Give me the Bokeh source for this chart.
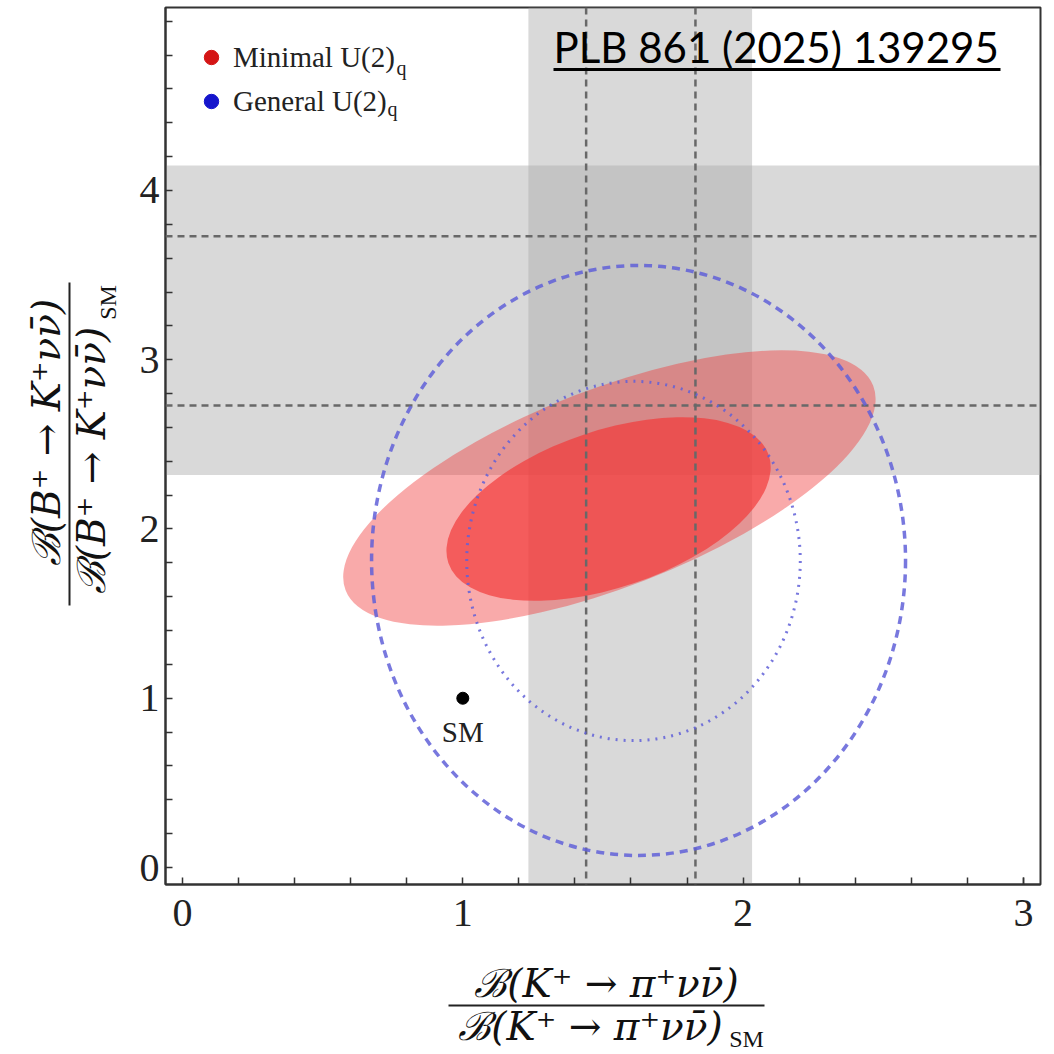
import math
from bokeh.plotting import figure
from bokeh.layouts import row, column
from bokeh.models import (Range1d, FixedTicker, BoxAnnotation, Span, Label,
                          Legend, LegendItem, Arrow)
from bokeh.core.properties import value
from bokeh.embed import file_html
from bokeh.resources import INLINE

# ---------------- data ----------------
x_major_ticks = [0, 1, 2, 3]
x_minor_ticks = [0.2, 0.4, 0.6, 0.8, 1.2, 1.4, 1.6, 1.8, 2.2, 2.4, 2.6, 2.8, 3.0]
y_major_ticks = [0, 1, 2, 3, 4]
y_minor_ticks = [0.2, 0.4, 0.6, 0.8, 1.2, 1.4, 1.6, 1.8, 2.2, 2.4, 2.6, 2.8,
                 3.2, 3.4, 3.6, 3.8, 4.2, 4.4, 4.6, 4.8, 5.0]

# experimental bands (1 sigma) and central values
k_band_low, k_band_high = 1.234, 2.032
k_central_lines = [1.44, 1.83]
b_band_low, b_band_high = 2.319, 4.147
b_central_lines = [2.73, 3.73]

# Minimal U(2)_q regions (outer, inner)
min_cx = [1.523, 1.520]
min_cy = [2.242, 2.118]
min_w = [2.019, 1.206]
min_h = [1.168, 0.927]
min_angle = [21.2, 18.6]
min_alpha = [0.43, 0.70]

# General U(2)_q contours (dashed outer, dotted inner)
gen_cx = [1.627, 1.609]
gen_cy = [1.814, 1.811]
gen_w = [1.905, 1.190]
gen_h = [3.487, 2.124]

sm_x = [1.0]
sm_y = [1.0]
sm_label = ["SM"]

legend_labels = ["Minimal U(2)", "General U(2)"]
legend_sub = "q"
reference_text = "PLB 861 (2025) 139295"
num_x = "\u212c(K\u207a \u2192 \u03c0\u207a\u03bd\u03bd\u0304)"
num_y = "\u212c(B\u207a \u2192 K\u207a\u03bd\u03bd\u0304)"
sub_sm = "SM"

# ---------------- main figure ----------------
SERIF = "Liberation Serif"
TITLE_FONT = "DejaVu Serif"
TOTAL = 1050
YT_W = 128           # width of the y-title strip
XT_H = 100           # height of the x-title strip
MAIN_W = TOTAL - YT_W
MAIN_H = TOTAL - XT_H
FRAME_TOP, FRAME_BOTTOM = 7, 884

p = figure(width=MAIN_W, height=MAIN_H,
           x_range=Range1d(-0.0607, 3.061), y_range=Range1d(-0.1004, 5.081),
           output_backend="svg", toolbar_location=None, title=None,
           min_border_left=37, min_border_right=10,
           min_border_top=FRAME_TOP, min_border_bottom=MAIN_H - FRAME_BOTTOM)
p.grid.visible = False
p.outline_line_color = "#333333"
p.outline_line_width = 2
p.background_fill_color = "white"

p.xaxis.ticker = FixedTicker(ticks=x_major_ticks, minor_ticks=x_minor_ticks)
p.yaxis.ticker = FixedTicker(ticks=y_major_ticks, minor_ticks=y_minor_ticks)
for ax in (p.xaxis, p.yaxis):
    ax.axis_line_width = 2
    ax.axis_line_color = "#333333"
    ax.major_tick_in = 7
    ax.major_tick_out = 0
    ax.minor_tick_in = 7
    ax.minor_tick_out = 0
    ax.major_tick_line_color = "#333333"
    ax.minor_tick_line_color = "#333333"
    ax.major_tick_line_width = 1.5
    ax.minor_tick_line_width = 1.5
    ax.major_label_text_font = SERIF
    ax.major_label_text_font_size = "40px"
    ax.major_label_text_color = "#222222"
p.xaxis.major_label_standoff = 15
p.yaxis.major_label_standoff = 6

# bands
p.add_layout(BoxAnnotation(left=k_band_low, right=k_band_high, fill_color="#aaaaaa",
                           fill_alpha=0.447, line_alpha=0, level="underlay"))
p.add_layout(BoxAnnotation(bottom=b_band_low, top=b_band_high, fill_color="#aaaaaa",
                           fill_alpha=0.447, line_alpha=0, level="underlay"))

# minimal U(2)q ellipses
for i in range(2):
    p.ellipse(x=[min_cx[i]], y=[min_cy[i]], width=[min_w[i]], height=[min_h[i]],
              angle=[min_angle[i]], angle_units="deg",
              fill_color="#f23a3a", fill_alpha=min_alpha[i], line_alpha=0)

# dashed central values
for loc in k_central_lines:
    p.add_layout(Span(location=loc, dimension="height", line_color="#686868",
                      line_width=2.5, line_dash="7 5"))
for loc in b_central_lines:
    p.add_layout(Span(location=loc, dimension="width", line_color="#686868",
                      line_width=2.5, line_dash="7 5"))

# general U(2)q contours
p.ellipse(x=[gen_cx[0]], y=[gen_cy[0]], width=[gen_w[0]], height=[gen_h[0]],
          fill_alpha=0, line_color="#6060d8", line_width=3.5, line_dash="8 6",
          line_alpha=0.85, level="overlay")
p.ellipse(x=[gen_cx[1]], y=[gen_cy[1]], width=[gen_w[1]], height=[gen_h[1]],
          fill_alpha=0, line_color="#6060d8", line_width=3, line_dash="2 6",
          line_alpha=0.85, level="overlay")

# SM point
p.scatter(x=sm_x, y=sm_y, size=12, color="black")
p.text(x=sm_x, y=sm_y, text=sm_label, y_offset=34, text_align="center",
       text_baseline="middle", text_font=value(SERIF), text_font_size="29px",
       text_color="#222222")

# legend (dummy renderers with no visible point)
r_red = p.scatter(x=[math.nan], y=[math.nan], size=14, color="#d41515")
r_blue = p.scatter(x=[math.nan], y=[math.nan], size=14, color="#1515cc")
legend = Legend(items=[LegendItem(label=legend_labels[0], renderers=[r_red]),
                       LegendItem(label=legend_labels[1], renderers=[r_blue])],
                location=(21, 758), padding=7, glyph_width=36,
                glyph_height=36, label_height=36, label_standoff=4, spacing=8,
                label_text_font=SERIF, label_text_font_size="29px",
                label_text_color="#222222",
                background_fill_alpha=0, border_line_alpha=0)
p.add_layout(legend)
p.add_layout(Label(x=231, y=817, x_units="screen", y_units="screen", text=legend_sub,
                   text_font=SERIF, text_font_size="20px", text_baseline="middle",
                   text_color="#222222"))
p.add_layout(Label(x=222, y=776, x_units="screen", y_units="screen", text=legend_sub,
                   text_font=SERIF, text_font_size="20px", text_baseline="middle",
                   text_color="#222222"))

# reference tag
p.add_layout(Label(x=388, y=838, x_units="screen", y_units="screen",
                   text=reference_text, text_font="Lato",
                   text_font_size="42px", text_baseline="middle", text_color="black"))
p.add_layout(Arrow(start=None, end=None, x_start=388, y_start=815, x_end=835, y_end=815,
                   start_units="screen", end_units="screen",
                   line_color="black", line_width=3))

# ---------------- title strips (coordinates = page pixels) ----------------
lab_kw = dict(text_font=TITLE_FONT, text_font_style="italic", text_font_size="39px",
              text_align="center", text_baseline="middle", text_color="#111111")
sub_kw = dict(text_font=SERIF, text_font_size="24px", text_align="center",
              text_baseline="middle", text_color="#111111")

# y title strip: same vertical borders as the main plot, y axis flipped to page pixels
yt = figure(width=YT_W, height=MAIN_H, x_range=Range1d(0, YT_W),
            y_range=Range1d(FRAME_BOTTOM, FRAME_TOP),
            output_backend="svg", toolbar_location=None, title=None,
            x_axis_location=None, y_axis_location=None,
            min_border_left=0, min_border_right=0, min_border_top=FRAME_TOP,
            min_border_bottom=MAIN_H - FRAME_BOTTOM, outline_line_color=None)
yt.grid.visible = False
yt.add_layout(Label(x=46, y=432, text=num_y, angle=90, angle_units="deg", **lab_kw))
yt.add_layout(Arrow(start=None, end=None, x_start=69, y_start=605, x_end=69, y_end=282,
                    line_color="#222222", line_width=2))
yt.add_layout(Label(x=91, y=460, text=num_y, angle=90, angle_units="deg", **lab_kw))
yt.add_layout(Label(x=107, y=302, text=sub_sm, angle=90, angle_units="deg", **sub_kw))

# x title strip
xt = figure(width=TOTAL, height=XT_H, x_range=Range1d(0, TOTAL),
            y_range=Range1d(TOTAL, MAIN_H),
            output_backend="svg", toolbar_location=None, title=None,
            x_axis_location=None, y_axis_location=None,
            min_border=0, outline_line_color=None)
xt.grid.visible = False
xt.add_layout(Label(x=606, y=983, text=num_x, **lab_kw))
xt.add_layout(Arrow(start=None, end=None, x_start=448, y_start=1005, x_end=764, y_end=1005,
                    line_color="#222222", line_width=2))
xt.add_layout(Label(x=590, y=1026, text=num_x, **lab_kw))
xt.add_layout(Label(x=746, y=1038, text=sub_sm, **sub_kw))

layout = column(row(yt, p, spacing=0), xt, spacing=0)
open("out.html", "w").write(file_html(layout, INLINE))
